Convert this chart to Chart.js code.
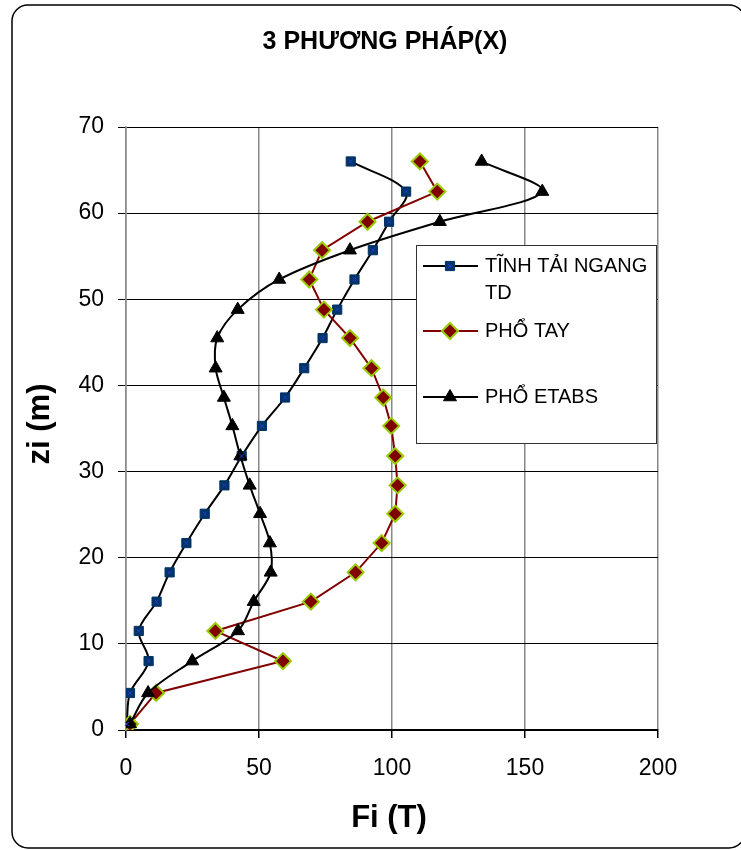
<!DOCTYPE html>
<html><head><meta charset="utf-8">
<script src="https://cdn.jsdelivr.net/npm/chart.js@4/dist/chart.umd.min.js"></script>
<style>html,body{margin:0;padding:0;background:#fff;}canvas{display:block;}</style>
</head><body>
<canvas id="c" width="741" height="850"></canvas>
<script>
// ---- data ----
const chartTitle = '3 PHƯƠNG PHÁP(X)';
const xAxisTitle = 'Fi (T)';
const yAxisTitle = 'zi (m)';
const seriesNames = ['TĨNH TẢI NGANG TD', 'PHỔ TAY', 'PHỔ ETABS'];
const zi = [0.7, 4.3, 8.0, 11.5, 14.9, 18.3, 21.7, 25.1, 28.4, 31.8, 35.3, 38.6, 42.0, 45.5, 48.8, 52.3, 55.7, 59.0, 62.5, 66.0];
const tinhTaiNgang = [0.3, 1.5, 8.5, 4.8, 11.5, 16.4, 22.7, 29.6, 37.0, 43.5, 51.1, 59.8, 67.0, 73.9, 79.4, 85.9, 92.8, 98.9, 105.3, 84.5];
const phoTay = [1.5, 11.3, 59.0, 33.6, 69.5, 86.3, 96.1, 101.2, 102.1, 101.2, 99.7, 96.7, 92.3, 84.2, 74.4, 68.9, 73.7, 90.8, 117.0, 110.5];
const phoEtabs = [1.5, 8.3, 24.9, 42.1, 48.0, 54.4, 54.1, 50.4, 46.5, 43.0, 40.0, 36.8, 33.7, 34.3, 42.0, 57.6, 84.2, 118.0, 156.5, 133.7];
const xTickValues = [0, 50, 100, 150, 200];
const yTickValues = [0, 10, 20, 30, 40, 50, 60, 70];

function toPoints(vals) { return vals.map((v, i) => ({ x: v, y: zi[i] })); }

const FONT = "'Liberation Sans', Arial, sans-serif";

function drawMarker(ctx, ds, x, y) {
  ctx.save();
  ctx.fillStyle = ds.pointBackgroundColor;
  ctx.strokeStyle = ds.pointBorderColor;
  ctx.lineWidth = ds.pointBorderWidth;
  Chart.helpers.drawPoint(ctx, { pointStyle: ds.pointStyle, rotation: 0, radius: ds.pointRadius, borderWidth: ds.pointBorderWidth }, x, y);
  ctx.restore();
}

function drawCross(ctx, x, y) {
  ctx.save();
  ctx.strokeStyle = '#1f3fd0';
  ctx.lineWidth = 1;
  ctx.beginPath();
  ctx.moveTo(x - 2, y - 2); ctx.lineTo(x + 2, y + 2);
  ctx.moveTo(x + 2, y - 2); ctx.lineTo(x - 2, y + 2);
  ctx.stroke();
  ctx.restore();
}

const decorPlugin = {
  id: 'decor',
  beforeDraw(chart) {
    const ctx = chart.ctx;
    ctx.save();
    ctx.strokeStyle = '#000';
    ctx.lineWidth = 1.5;
    ctx.beginPath();
    ctx.roundRect(12, 5, 733, 843, 16);
    ctx.stroke();
    ctx.restore();
  },
  afterDatasetsDraw(chart) {
    const ctx = chart.ctx;
    chart.getDatasetMeta(0).data.forEach(p => drawCross(ctx, p.x, p.y));
  },
  afterDraw(chart) {
    const ctx = chart.ctx;
    ctx.save();
    // title
    ctx.fillStyle = '#000';
    ctx.textAlign = 'center';
    ctx.textBaseline = 'middle';
    ctx.font = 'bold 25px ' + FONT;
    ctx.fillText(chartTitle, 385, 42);
    // axis titles
    ctx.font = 'bold 31px ' + FONT;
    ctx.fillText(xAxisTitle, 389, 818);
    ctx.save();
    ctx.translate(40, 424);
    ctx.rotate(-Math.PI / 2);
    ctx.fillText(yAxisTitle, 0, 0);
    ctx.restore();

    // legend
    const bx = 416, by = 245, bw = 240, bh = 198;
    ctx.fillStyle = '#fff';
    ctx.fillRect(bx, by, bw, bh);
    ctx.strokeStyle = '#333';
    ctx.lineWidth = 1;
    ctx.strokeRect(bx + 0.5, by + 0.5, bw, bh);
    ctx.font = '20px ' + FONT;
    ctx.textAlign = 'left';
    ctx.textBaseline = 'middle';
    const rows = [266, 331, 397];
    const maxW = 168;
    chart.data.datasets.forEach((ds, i) => {
      const y = rows[i];
      ctx.strokeStyle = ds.borderColor;
      ctx.lineWidth = ds.borderWidth;
      ctx.beginPath();
      ctx.moveTo(423, y); ctx.lineTo(478, y);
      ctx.stroke();
      drawMarker(ctx, ds, 450, y);
      if (i === 0) drawCross(ctx, 450, y);
      ctx.fillStyle = '#000';
      const words = ds.label.split(' ');
      const lines = [];
      let cur = '';
      words.forEach(w => {
        const t = cur ? cur + ' ' + w : w;
        if (ctx.measureText(t).width > maxW && cur) { lines.push(cur); cur = w; }
        else cur = t;
      });
      lines.push(cur);
      lines.forEach((ln, k) => ctx.fillText(ln, 485, y + k * 27));
    });
    ctx.restore();
  }
};

const chart = new Chart(document.getElementById('c'), {
  type: 'scatter',
  data: {
    datasets: [
      {
        label: seriesNames[0], data: toPoints(tinhTaiNgang), showLine: true, tension: 0.33,
        borderColor: '#000', borderWidth: 2,
        pointStyle: 'rect', pointRadius: 6.5, pointBackgroundColor: '#003366', pointBorderColor: '#003366', pointBorderWidth: 1,
        order: 3
      },
      {
        label: seriesNames[1], data: toPoints(phoTay), showLine: true, tension: 0,
        borderColor: '#800000', borderWidth: 2,
        pointStyle: 'rectRot', pointRadius: 8, pointBackgroundColor: '#800000', pointBorderColor: '#99CC00', pointBorderWidth: 2,
        order: 2
      },
      {
        label: seriesNames[2], data: toPoints(phoEtabs), showLine: true, tension: 0.33,
        borderColor: '#000', borderWidth: 2,
        pointStyle: 'triangle', pointRadius: 7.5, pointBackgroundColor: '#000', pointBorderColor: '#000', pointBorderWidth: 1,
        order: 1
      }
    ]
  },
  options: {
    responsive: false,
    animation: false,
    devicePixelRatio: 1,
    layout: { padding: { left: 0, top: 127, right: 83, bottom: 0 } },
    plugins: { legend: { display: false }, tooltip: { enabled: false }, title: { display: false } },
    scales: {
      x: {
        type: 'linear', min: 0, max: 200,
        afterBuildTicks: s => { s.ticks = xTickValues.map(v => ({ value: v })); },
        afterFit: s => { s.height = 120; },
        ticks: { color: '#000', font: { family: FONT, size: 23 }, padding: 17, maxRotation: 0 },
        grid: { color: '#888', lineWidth: 1.5, tickLength: 8, tickColor: '#000' },
        border: { color: '#000', width: 1.5 }
      },
      y: {
        type: 'linear', min: 0, max: 70,
        afterBuildTicks: s => { s.ticks = yTickValues.map(v => ({ value: v })); },
        afterFit: s => { s.width = 126; },
        ticks: { color: '#000', font: { family: FONT, size: 23 }, padding: 14 },
        grid: { color: '#000', lineWidth: 1, tickLength: 8, tickColor: '#000' },
        border: { color: '#888', width: 1.5 }
      }
    }
  },
  plugins: [decorPlugin]
});
</script>
</body></html>
